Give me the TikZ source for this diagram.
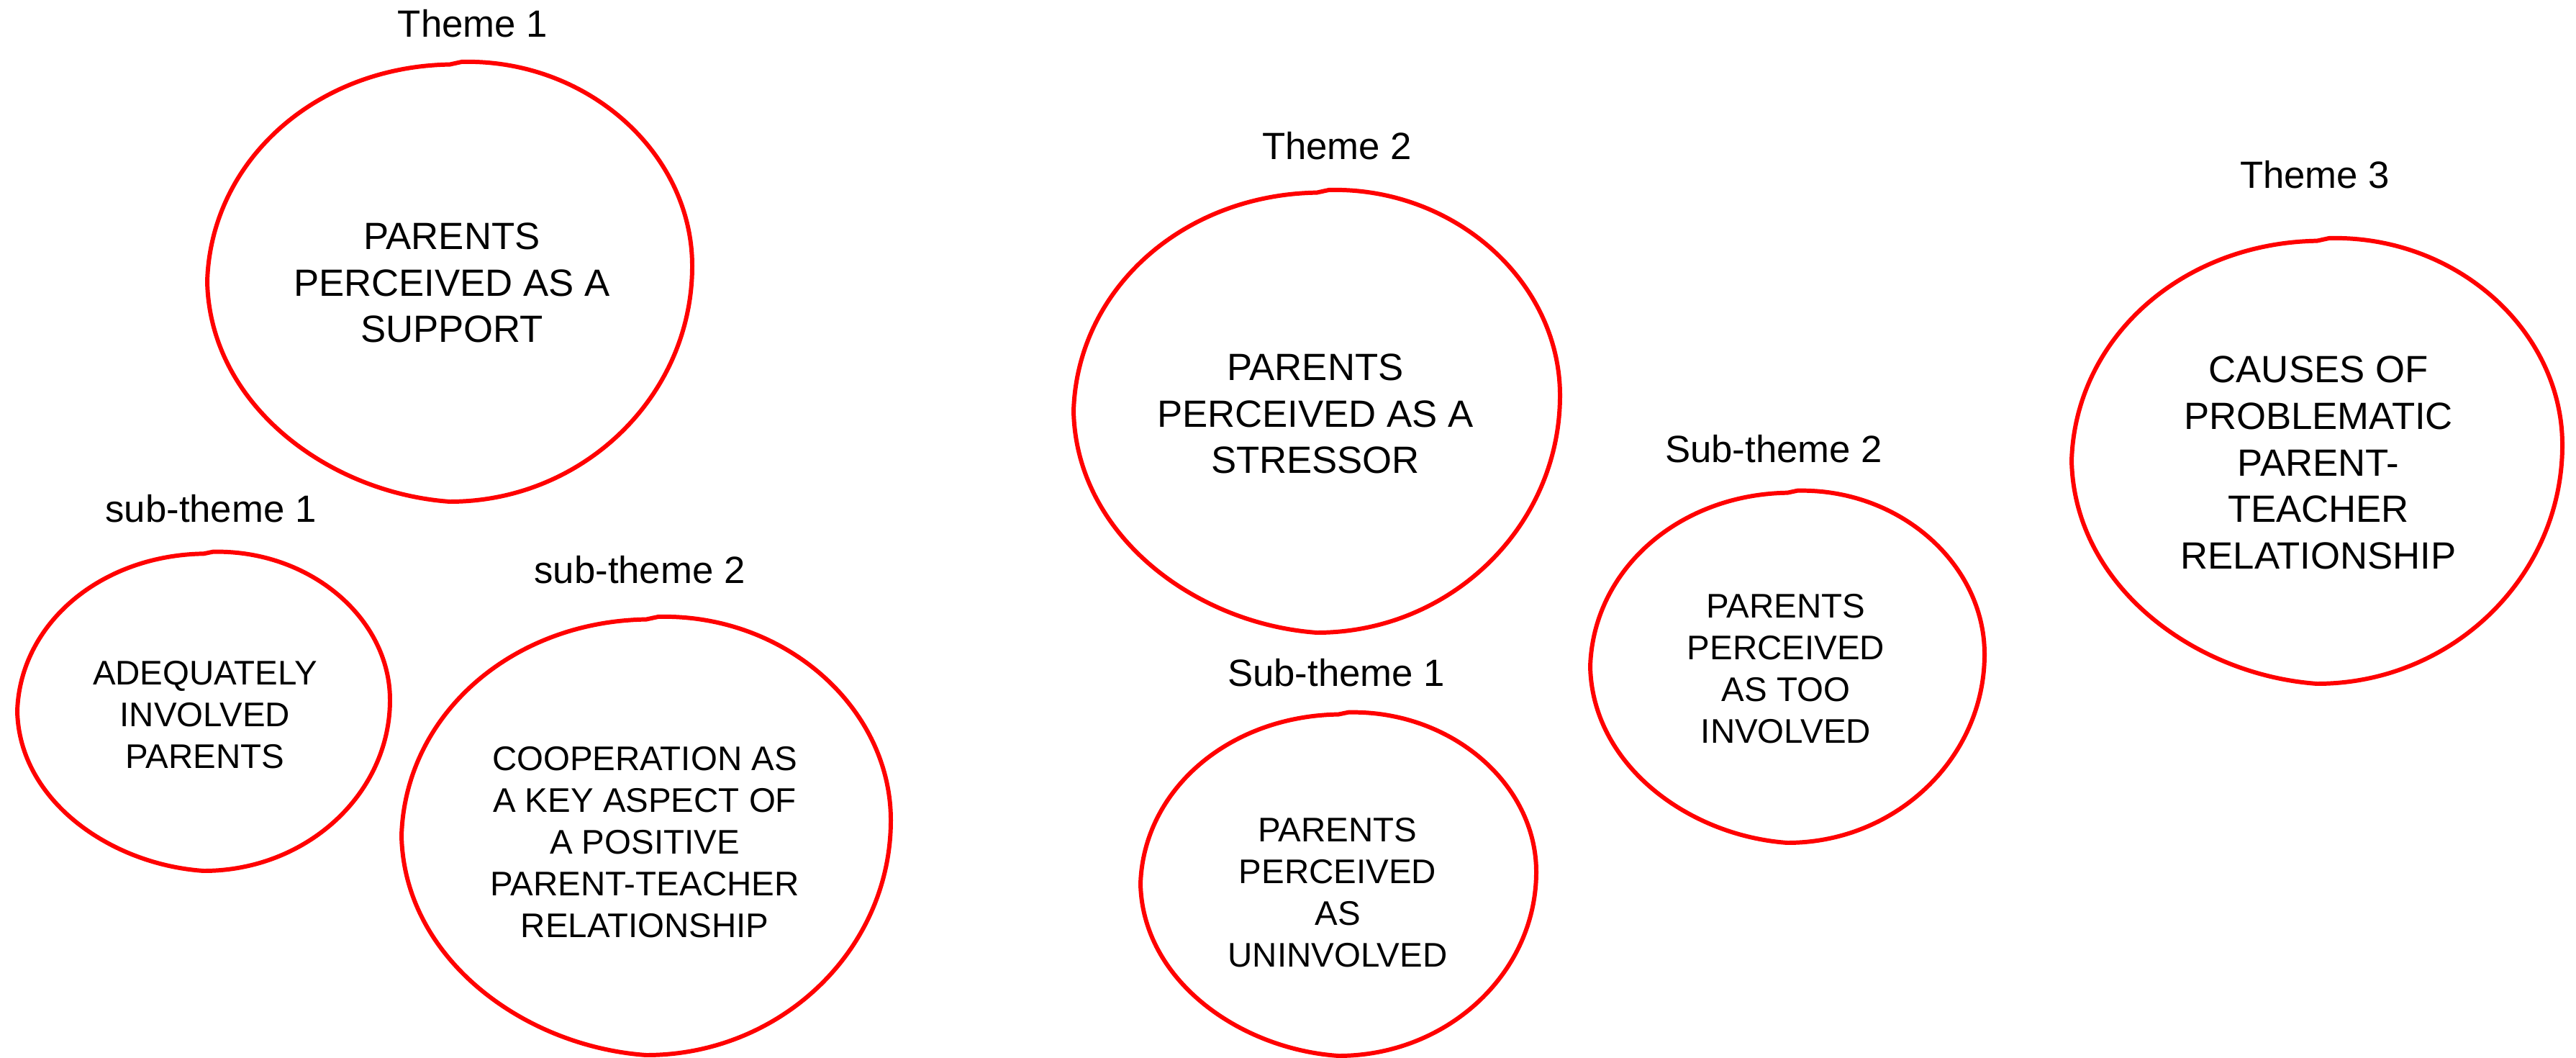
\documentclass[tikz,border=0pt]{standalone}
\usepackage{fontspec}
\setmainfont{Liberation Sans}
\begin{document}
\begin{tikzpicture}[
    blob/.style={draw=red, line width=1.7pt, line join=round},
    titolo/.style={font=\fontsize{15}{18}\selectfont},
    grande/.style={align=center, font=\fontsize{15}{18.4}\selectfont},
    piccolo/.style={align=center, font=\fontsize{13.5}{16.5}\selectfont}]
    % Bolla disegnata a mano: centro, semiasse x, semiasse y
    \def\bolla#1#2#3{%
        \draw[blob, shift={(#1)}, xscale=#2, yscale=#3]
            (0,0.985) -- (0.05,0.997)
            .. controls (0.57,1.01) and (1,0.58) .. (1,0.07)
            .. controls (1,-0.52) and (0.55,-1) .. (0,-1)
            .. controls (-0.5,-0.96) and (-0.99,-0.56) .. (-1,0)
            .. controls (-0.985,0.55) and (-0.55,0.975) .. (0,0.985) -- cycle;}

    \useasboundingbox (0,0) rectangle (35.8,-14.7);

    % Tema 1
    \node[titolo] (lab1) at (6.57,-0.33) {Theme 1};
    \node[grande] (tema1) at (6.28,-3.93) {PARENTS\\PERCEIVED AS A\\SUPPORT};
    \bolla{6.25,-3.91}{3.37}{3.06}

    \node[titolo] (lab11) at (2.93,-7.07) {sub-theme 1};
    \node[piccolo] (sotto11) at (2.85,-9.93) {ADEQUATELY\\INVOLVED\\PARENTS};
    \bolla{2.83,-9.88}{2.59}{2.22}

    \node[titolo] (lab12) at (8.89,-7.92) {sub-theme 2};
    \node[piccolo] (sotto12) at (8.96,-11.70)
        {COOPERATION AS\\A KEY ASPECT OF\\A POSITIVE\\PARENT-TEACHER\\RELATIONSHIP};
    \bolla{8.98,-11.61}{3.40}{3.05}

    % Tema 2
    \node[titolo] (lab2) at (18.58,-2.03) {Theme 2};
    \node[grande] (tema2) at (18.28,-5.75) {PARENTS\\PERCEIVED AS A\\STRESSOR};
    \bolla{18.30,-5.71}{3.38}{3.08}

    \node[titolo] (lab21) at (18.57,-9.35) {Sub-theme 1};
    \node[piccolo] (sotto21) at (18.59,-12.40) {PARENTS\\PERCEIVED\\AS\\UNINVOLVED};
    \bolla{18.60,-12.28}{2.75}{2.39}

    \node[titolo] (lab22) at (24.65,-6.24) {Sub-theme 2};
    \node[piccolo] (sotto22) at (24.82,-9.29) {PARENTS\\PERCEIVED\\AS TOO\\INVOLVED};
    \bolla{24.84,-9.26}{2.74}{2.45}

    % Tema 3
    \node[titolo] (lab3) at (32.17,-2.43) {Theme 3};
    \node[grande] (tema3) at (32.22,-6.43)
        {CAUSES OF\\PROBLEMATIC\\PARENT-\\TEACHER\\RELATIONSHIP};
    \bolla{32.20,-6.40}{3.41}{3.10}
\end{tikzpicture}
\end{document}
